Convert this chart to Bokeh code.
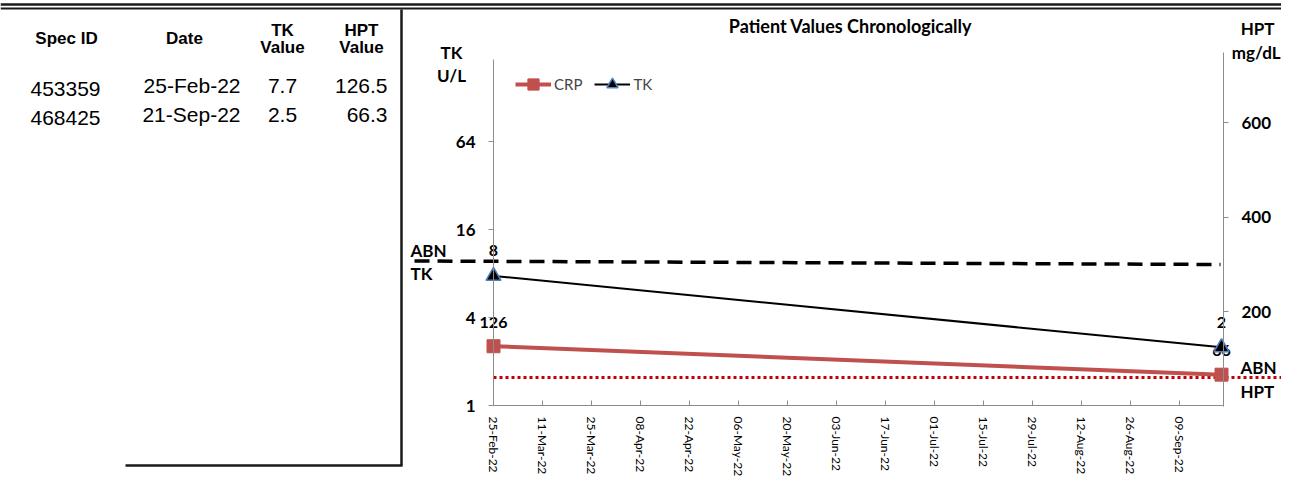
import datetime as dt
from bokeh.plotting import figure
from bokeh.models import (Range1d, LogScale, LogAxis, LinearAxis, DatetimeAxis, FixedTicker,
                          DatetimeTickFormatter, NumeralTickFormatter, ColumnDataSource,
                          Legend, LegendItem)
from bokeh.core.properties import value
from bokeh.embed import file_html
from bokeh.resources import INLINE

# ---------------- data ----------------
spec_ids = ["453359", "468425"]
sample_dates = ["25-Feb-22", "21-Sep-22"]
tk_values = [7.7, 2.5]
hpt_values = [126.5, 66.3]
series_names = ["CRP", "TK"]
tk_ticks = [1, 4, 16, 64]
hpt_ticks = [200, 400, 600]
date_ticks = ["25-Feb-22", "11-Mar-22", "25-Mar-22", "08-Apr-22", "22-Apr-22", "06-May-22",
              "20-May-22", "03-Jun-22", "17-Jun-22", "01-Jul-22", "15-Jul-22", "29-Jul-22",
              "12-Aug-22", "26-Aug-22", "09-Sep-22"]

# ---------------- layout (picture pixels) ----------------
W, H = 1281, 476
X0, Y0 = 0, 0
AX_L, AX_R, AX_B = 493, 1223, 405
PX_PER_DAY = 3.5
PX_PER_DOUBLING = 44.0
HPT_ZERO_Y = 405.5
HPT_PX_PER_UNIT = 94.5 / 200
TK_TOP_Y, HPT_TOP_Y = 59, 52
DAY_MS = 86400000.0
EPOCH = dt.datetime(1970, 1, 1)


def to_ms(s):
    return (dt.datetime.strptime(s, "%d-%b-%y") - EPOCH).total_seconds() * 1000.0


d0 = to_ms(sample_dates[0])
x_lo = d0 - (AX_L - X0) / PX_PER_DAY * DAY_MS
x_hi = d0 + (X0 + W - AX_L) / PX_PER_DAY * DAY_MS
x_axis_end = d0 + (AX_R - AX_L) / PX_PER_DAY * DAY_MS
tk_lo = 2 ** (-(Y0 + H - AX_B) / PX_PER_DOUBLING)
tk_hi = 2 ** ((AX_B - Y0) / PX_PER_DOUBLING)
tk_top = 2 ** ((AX_B - TK_TOP_Y) / PX_PER_DOUBLING)
h_lo = -(Y0 + H - HPT_ZERO_Y) / HPT_PX_PER_UNIT
h_hi = (HPT_ZERO_Y - Y0) / HPT_PX_PER_UNIT
h_top = (HPT_ZERO_Y - HPT_TOP_Y) / HPT_PX_PER_UNIT

p = figure(width=W, height=H, x_range=Range1d(X0, X0 + W), y_range=Range1d(Y0 + H, Y0),
           min_border=0, x_axis_location=None, y_axis_location=None, toolbar_location=None,
           output_backend="svg", outline_line_color=None,
           background_fill_color="white", border_fill_color="white")
p.xgrid.visible = False
p.ygrid.visible = False
p.extra_x_ranges = {"date": Range1d(x_lo, x_hi)}
p.extra_y_ranges = {"tk": Range1d(tk_lo, tk_hi), "hpt": Range1d(h_lo, h_hi)}
p.extra_y_scales = {"tk": LogScale()}

FONT = value("Lato")
TFONT = value("Liberation Sans")
AXIS_GRAY = "#8C8C8C"

# ---------------- frame decorations ----------------
p.segment(x0=[X0, X0, 401, 125], y0=[4, 8, 9, 465], x1=[X0 + W, X0 + W, 401, 402],
          y1=[4, 8, 465, 465], line_color="#1a1a1a", line_width=[2.5, 2, 2.5, 2.5])

# ---------------- table ----------------
hdr = ColumnDataSource(dict(x=[66, 184, 282, 282, 361, 361], y=[38, 38, 30, 47, 30, 47],
                            t=["Spec ID", "Date", "TK", "Value", "HPT", "Value"]))
p.text("x", "y", text="t", source=hdr, text_font=TFONT, text_font_style="bold",
       text_font_size="17px", text_align="center", text_baseline="middle", text_color="black")
row_y = [85, 114]
p.text(x=[65] * len(spec_ids), y=[y + 3 for y in row_y], text=spec_ids, text_font=TFONT,
       text_font_size="21px", text_align="center", text_baseline="middle", text_color="black")
p.text(x=[240] * len(sample_dates), y=row_y, text=sample_dates, text_font=TFONT,
       text_font_size="21px", text_align="right", text_baseline="middle", text_color="black")
p.text(x=[282] * len(tk_values), y=row_y, text=[f"{v}" for v in tk_values], text_font=TFONT,
       text_font_size="21px", text_align="center", text_baseline="middle", text_color="black")
p.text(x=[387] * len(hpt_values), y=row_y, text=[f"{v}" for v in hpt_values], text_font=TFONT,
       text_font_size="21px", text_align="right", text_baseline="middle", text_color="black")

# ---------------- chart texts ----------------
p.text(x=[850], y=[25], text=["Patient Values Chronologically"], text_font=FONT,
       text_font_style="bold", text_font_size="18px", text_align="center",
       text_baseline="middle", text_color="black")
p.text(x=[451, 451], y=[52, 75], text=["TK", "U/L"],
       text_font=FONT, text_font_style="bold", text_font_size="17px", text_align="center",
       text_baseline="middle", text_color="black")
p.text(x=[1274, 1280], y=[28, 52], text=["HPT", "mg/dL"],
       text_font=FONT, text_font_style="bold", text_font_size="17px", text_align="right",
       text_baseline="middle", text_color="black")
p.text(x=[410, 410, 1240, 1240], y=[250, 273, 367, 391], text=["ABN", "TK", "ABN", "HPT"],
       text_font=FONT, text_font_style="bold", text_font_size="17px", text_align="left",
       text_baseline="middle", text_color="black")

# ---------------- abnormal limit shapes ----------------
p.segment(x0=[414], y0=[260.5], x1=[1220], y1=[264], line_color="black", line_width=3.5,
          line_dash="15 8")
p.segment(x0=[493], y0=[377], x1=[1281], y1=[377], line_color="#C00000", line_width=3,
          line_dash="3 3")

# ---------------- axes ----------------
xax = DatetimeAxis(x_range_name="date", fixed_location=AX_B, bounds=(d0, x_axis_end),
                   ticker=FixedTicker(ticks=[to_ms(s) for s in date_ticks]))
fmt = "%d-%b-%y"
xax.formatter = DatetimeTickFormatter(milliseconds=fmt, seconds=fmt, minsec=fmt, minutes=fmt,
                                      hourmin=fmt, hours=fmt, days=fmt, months=fmt, years=fmt,
                                      strip_leading_zeros=False)
xax.major_label_orientation = "vertical"
xax.major_tick_in = 5
xax.major_tick_out = 0
xax.minor_tick_in = 0
xax.minor_tick_out = 0
xax.major_label_standoff = 11
xax.axis_line_color = AXIS_GRAY
xax.major_tick_line_color = AXIS_GRAY
xax.major_label_text_font = "Lato"
xax.major_label_text_font_size = "12px"
xax.major_label_text_color = "black"
p.add_layout(xax, "below")

yl = LogAxis(y_range_name="tk", fixed_location=AX_L, bounds=(1, tk_top),
             ticker=FixedTicker(ticks=tk_ticks), formatter=NumeralTickFormatter(format="0"))
yr = LinearAxis(y_range_name="hpt", fixed_location=AX_R, bounds=(0, h_top),
                ticker=FixedTicker(ticks=hpt_ticks), formatter=NumeralTickFormatter(format="0"))
for ax in (yl, yr):
    ax.major_tick_out = 5
    ax.major_tick_in = 0
    ax.minor_tick_in = 0
    ax.minor_tick_out = 0
    ax.major_label_standoff = 13
    ax.axis_line_color = AXIS_GRAY
    ax.major_tick_line_color = AXIS_GRAY
    ax.major_label_text_font = "Lato"
    ax.major_label_text_font_style = "bold"
    ax.major_label_text_font_size = "17px"
    ax.major_label_text_color = "black"
p.add_layout(yl, "left")
p.add_layout(yr, "right")

# ---------------- series ----------------
src = ColumnDataSource(dict(
    x=[to_ms(s) for s in sample_dates], tk=tk_values, hpt=hpt_values,
    tk_lab=[f"{round(v)}" for v in tk_values], hpt_lab=[f"{round(v)}" for v in hpt_values]))

r_hl = p.line("x", "hpt", source=src, x_range_name="date", y_range_name="hpt",
              line_color="#C0504D", line_width=4)
r_hs = p.scatter("x", "hpt", source=src, x_range_name="date", y_range_name="hpt",
                 marker="square", size=13, fill_color="#C0504D", line_color="#C0504D")
p.text("x", "hpt", text="hpt_lab", source=src, x_range_name="date", y_range_name="hpt",
       y_offset=-24, text_font=FONT, text_font_style="bold", text_font_size="16px",
       text_align="center", text_baseline="middle", text_color="black")
r_tl = p.line("x", "tk", source=src, x_range_name="date", y_range_name="tk",
              line_color="black", line_width=2)
r_ts = p.scatter("x", "tk", source=src, x_range_name="date", y_range_name="tk",
                 marker="triangle", size=15, fill_color="black", line_color="#4F81BD",
                 line_width=1.5)
p.text("x", "tk", text="tk_lab", source=src, x_range_name="date", y_range_name="tk",
       y_offset=-25, text_font=FONT, text_font_style="bold", text_font_size="16px",
       text_align="center", text_baseline="middle", text_color="black")

legend = Legend(items=[LegendItem(label=series_names[0], renderers=[r_hl, r_hs]),
                       LegendItem(label=series_names[1], renderers=[r_tl, r_ts])],
                orientation="horizontal", location=(515, 378), border_line_color=None,
                background_fill_alpha=0, padding=0, margin=0, spacing=12,
                glyph_width=36, glyph_height=28, label_standoff=3,
                label_text_font="Lato", label_text_font_size="15px")
p.add_layout(legend)

open("out.html", "w").write(file_html(p, INLINE))
